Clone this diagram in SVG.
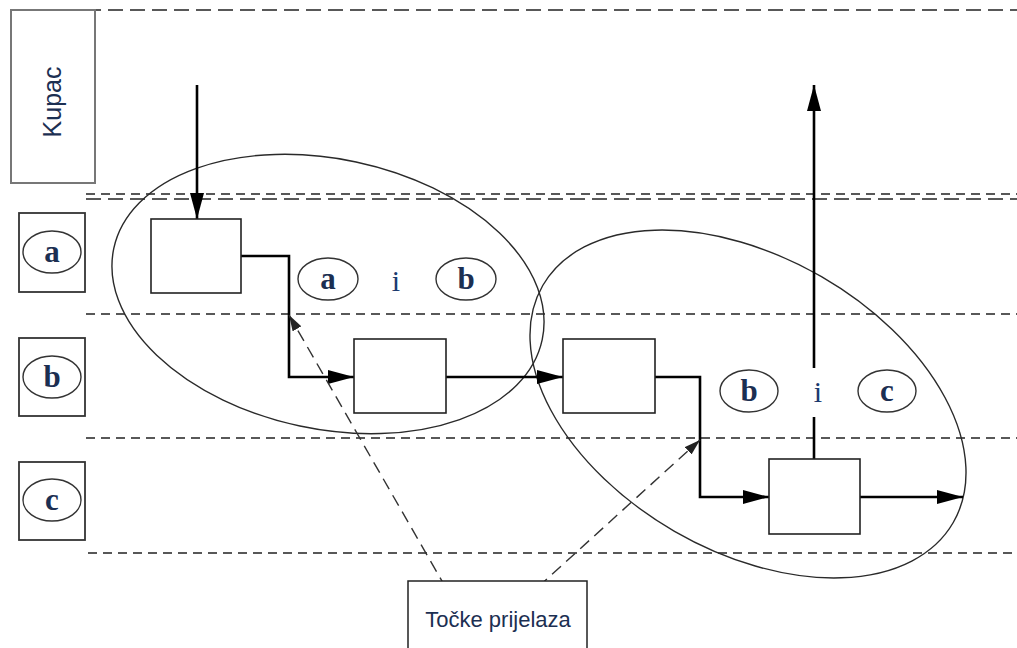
<svg xmlns="http://www.w3.org/2000/svg" width="1017" height="648" viewBox="0 0 1017 648">
<defs>
<style>
.lane{stroke:#222;stroke-width:1.5;stroke-dasharray:9 6;fill:none}
.lanel{stroke:#222;stroke-width:1.5;stroke-dasharray:15 7;fill:none}
.grp{fill:none;stroke:#2a2a2a;stroke-width:1.4}
.box{fill:#fff;stroke:#222;stroke-width:1.6}
.lbox{fill:#fff;stroke:#333;stroke-width:1.8}
.oval{fill:#fff;stroke:#333;stroke-width:1.4}
.flow{fill:none;stroke:#000;stroke-width:2.6}
.ptr{fill:none;stroke:#333;stroke-width:1.4;stroke-dasharray:12 7}
.let{font-family:"Liberation Serif",serif;font-weight:bold;font-size:31px;fill:#1c2f52;text-anchor:middle}
.ii{font-family:"Liberation Serif",serif;font-size:30px;fill:#1c3a6e;text-anchor:middle}
.sans{font-family:"Liberation Sans",Arial,sans-serif;fill:#1c2f52;text-anchor:middle}
</style>
<marker id="ah" viewBox="0 0 26 14" refX="26" refY="7" markerWidth="26" markerHeight="14" markerUnits="userSpaceOnUse" orient="auto"><path d="M0,0 L26,7 L0,14 z" fill="#000"/></marker>
<marker id="sh" viewBox="0 0 16 10" refX="16" refY="5" markerWidth="16" markerHeight="10" markerUnits="userSpaceOnUse" orient="auto"><path d="M0,0 L16,5 L0,10 z" fill="#222"/></marker>
</defs>
<rect width="1017" height="648" fill="#fff"/>
<g id="lanes">
<line class="lanel" x1="86" y1="10" x2="1017" y2="10"/>
<line class="lane" x1="86" y1="194" x2="1017" y2="194"/>
<line class="lanel" x1="86" y1="199" x2="1017" y2="199"/>
<line class="lane" x1="86" y1="314" x2="1017" y2="314"/>
<line class="lane" x1="86" y1="438" x2="1017" y2="438"/>
<line class="lane" x1="88" y1="553" x2="1017" y2="553"/>
</g>
<g id="kupac">
<rect x="11" y="10" width="84" height="173" fill="#fff" stroke="#777" stroke-width="2"/>
<text class="sans" font-size="25" transform="translate(61,102) rotate(-90)">Kupac</text>
</g>
<g id="lane-a">
<rect class="lbox" x="19" y="213" width="66" height="79"/>
<ellipse class="oval" cx="52" cy="252" rx="29" ry="21"/>
<text class="let" x="52" y="262">a</text>
</g>
<g id="lane-b">
<rect class="lbox" x="19" y="338" width="66" height="78"/>
<ellipse class="oval" cx="52" cy="377" rx="29" ry="21"/>
<text class="let" x="52" y="387">b</text>
</g>
<g id="lane-c">
<rect class="lbox" x="19" y="462" width="66" height="78"/>
<ellipse class="oval" cx="52" cy="500" rx="29" ry="21"/>
<text class="let" x="52" y="510">c</text>
</g>
<g id="group1">
<ellipse class="grp" cx="328" cy="294" rx="219" ry="135" transform="rotate(12 328 294)"/>
</g>
<g id="group2">
<ellipse class="grp" cx="748" cy="404" rx="237" ry="147" transform="rotate(30 748 404)"/>
</g>
<g id="connectors">
<line class="flow" x1="197" y1="85" x2="197" y2="219" marker-end="url(#ah)"/>
<polyline class="flow" points="241,256 289,256 289,377 354,377" marker-end="url(#ah)"/>
<line class="flow" x1="446" y1="377" x2="563" y2="377" marker-end="url(#ah)"/>
<polyline class="flow" points="655,377 700,377 700,497 769,497" marker-end="url(#ah)"/>
<line class="flow" x1="814" y1="459" x2="814" y2="417"/>
<line class="flow" x1="814" y1="368" x2="814" y2="85" marker-end="url(#ah)"/>
<line class="flow" x1="860" y1="497" x2="963" y2="497" marker-end="url(#ah)"/>
<line class="ptr" x1="446" y1="588" x2="289" y2="315" marker-end="url(#sh)"/>
<line class="ptr" x1="538" y1="587" x2="700" y2="440" marker-end="url(#sh)"/>
</g>
<g id="p1"><rect class="box" x="151" y="219" width="90" height="74"/></g>
<g id="p2"><rect class="box" x="354" y="339" width="92" height="74"/></g>
<g id="p3"><rect class="box" x="563" y="339" width="92" height="74"/></g>
<g id="p4"><rect class="box" x="769" y="459" width="91" height="75"/></g>
<g id="label-ab">
<ellipse class="oval" cx="328" cy="279" rx="30" ry="21"/>
<text class="let" x="328" y="289">a</text>
<text class="ii" x="396" y="291">i</text>
<ellipse class="oval" cx="466" cy="279" rx="30" ry="21"/>
<text class="let" x="466" y="289">b</text>
</g>
<g id="label-bc">
<ellipse class="oval" cx="749" cy="391" rx="29" ry="21"/>
<text class="let" x="749" y="401">b</text>
<text class="ii" x="818" y="402">i</text>
<ellipse class="oval" cx="887" cy="391" rx="29" ry="21"/>
<text class="let" x="887" y="401">c</text>
</g>
<g id="tocke">
<rect x="408" y="581" width="179" height="80" fill="#fff" stroke="#222" stroke-width="1.5"/>
<text class="sans" font-size="22" x="498" y="627">Točke prijelaza</text>
</g>
</svg>
